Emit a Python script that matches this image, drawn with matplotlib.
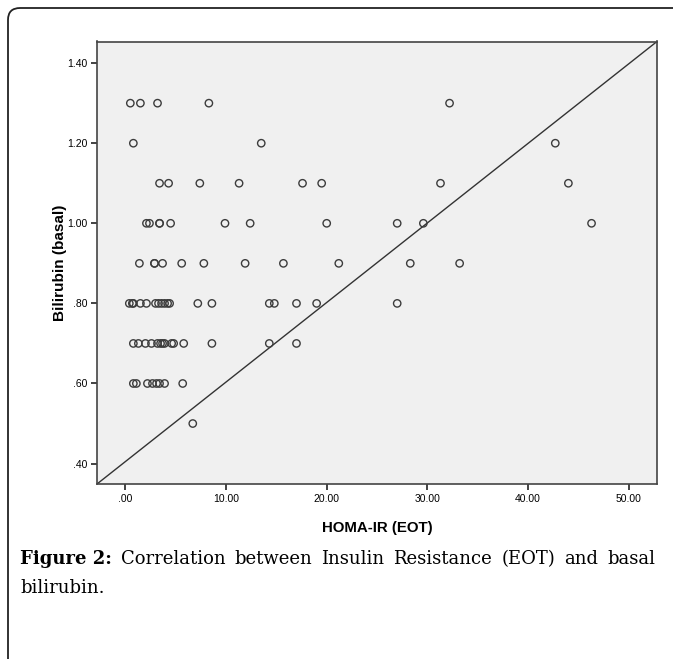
import numpy as np
import matplotlib
matplotlib.use("Agg")
import matplotlib.pyplot as plt
from matplotlib.patches import FancyBboxPatch

# bilirubin levels (rows) and HOMA-IR values
bili_130 = [0.5, 1.5, 3.2, 8.3, 32.2]
bili_120 = [0.8, 13.5, 42.7]
bili_110 = [3.4, 4.3, 7.4, 11.3, 17.6, 19.5, 31.3, 44.0]
bili_100 = [2.1, 2.4, 3.4, 3.4, 4.5, 9.9, 12.4, 20.0, 27.0, 29.6, 46.3]
bili_090 = [1.4, 2.9, 2.9, 3.7, 5.6, 7.8, 11.9, 15.7, 21.2, 28.3, 33.2]
bili_080 = [0.4, 0.7, 0.8, 1.5, 2.1, 3.0, 3.3, 3.6, 3.9, 4.2, 4.4,
            7.2, 8.6, 14.3, 14.8, 17.0, 19.0, 27.0]
bili_070 = [0.8, 1.3, 2.0, 2.6, 3.2, 3.5, 3.7, 3.9, 4.6, 4.8, 5.8,
            8.6, 14.3, 17.0]
bili_060 = [0.8, 1.1, 2.2, 2.7, 3.1, 3.4, 3.9, 5.7]
bili_050 = [6.7]

rows = {1.30: bili_130, 1.20: bili_120, 1.10: bili_110, 1.00: bili_100,
        0.90: bili_090, 0.80: bili_080, 0.70: bili_070, 0.60: bili_060,
        0.50: bili_050}

homa = []
bili = []
for level, xs in rows.items():
    homa += xs
    bili += [level] * len(xs)

xticks = [0, 10, 20, 30, 40, 50]
xticklabels = [".00", "10.00", "20.00", "30.00", "40.00", "50.00"]
yticks = [0.4, 0.6, 0.8, 1.0, 1.2, 1.4]
yticklabels = [".40", ".60", ".80", "1.00", "1.20", "1.40"]

caption_1 = "Correlation between Insulin Resistance (EOT) and basal"
caption_2 = "bilirubin."

W, H = 673, 659
fig = plt.figure(figsize=(W / 100, H / 100), dpi=100)
fig.patch.set_facecolor("white")

# rounded frame running off the right and bottom edges
frame = FancyBboxPatch((8 / W, -0.2), 1.2, 1 + 0.2 - 8 / H,
                       boxstyle="round,pad=0,rounding_size=0.018",
                       transform=fig.transFigure, fill=False,
                       edgecolor="#222222", lw=1.3, clip_on=False)
fig.patches.append(frame)

ax = fig.add_axes([97 / W, 1 - 484 / H, (657 - 97) / W, (484 - 41.5) / H])
ax.set_facecolor("#f0f0f0")
ax.set_xlim(-2.81, 52.8)
ax.set_ylim(0.349, 1.454)

ax.scatter(homa, bili, s=28, facecolors="none", edgecolors="#3c3c3c",
           linewidths=1.0, zorder=3)
ax.plot([0, 1], [0, 1], transform=ax.transAxes, color="#333333", lw=1.0)

for sp in ax.spines.values():
    sp.set_color("#444444")
    sp.set_linewidth(1.2)

ax.set_xticks(xticks)
ax.set_xticklabels(xticklabels)
ax.set_yticks(yticks)
ax.set_yticklabels(yticklabels)
ax.tick_params(direction="out", length=4, width=1.2, color="#222222",
               labelsize=7.5, pad=3, labelfontfamily="Liberation Sans")

ax.set_xlabel("HOMA-IR (EOT)", fontsize=10.8, fontweight="bold",
              family="Liberation Sans")
ax.set_ylabel("Bilirubin (basal)", fontsize=11, fontweight="bold",
              family="Liberation Sans")
ax.xaxis.set_label_coords(0.5, (484 - 521) / 442.5)
ax.yaxis.set_label_coords((67 - 97) / 560, 0.5)

# caption, first line justified between x=20 and x=655 px
fs = 13
y1 = 1 - 564 / H
words = [("Figure 2:", "bold")] + [(w, "normal") for w in caption_1.split()]
texts = [fig.text(0, y1, w, fontsize=fs, fontweight=wt,
                  family="DejaVu Serif", va="baseline")
         for w, wt in words]
renderer = fig.canvas.get_renderer()
widths = [t.get_window_extent(renderer).width for t in texts]
gap = (655 - 20 - sum(widths)) / (len(texts) - 1)
x = 20.0
for t, w in zip(texts, widths):
    t.set_x(x / W)
    x += w + gap
fig.text(20 / W, 1 - 593 / H, caption_2, fontsize=fs,
         family="DejaVu Serif", va="baseline")

fig.savefig("out.png", dpi=100)
